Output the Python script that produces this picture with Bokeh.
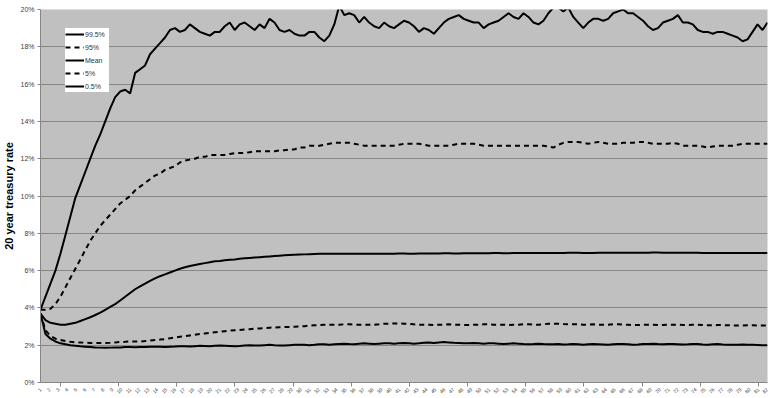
import math
from bokeh.plotting import figure
from bokeh.models import (Range1d, FixedTicker, PrintfTickFormatter, CustomJSTickFormatter,
                          Legend, LegendItem, ColumnDataSource)
from bokeh.embed import file_html
from bokeh.resources import INLINE

# ---- data (percent), one value per period ----
p995 = [3.9, 4.6, 5.3, 6.0, 6.9, 7.9, 8.9, 9.9, 10.6, 11.3,
        12.0, 12.7, 13.3, 14.0, 14.7, 15.3, 15.6, 15.7, 15.5, 16.6,
        16.8, 17.0, 17.6, 17.9, 18.2, 18.5, 18.9, 19.0, 18.8, 18.9,
        19.2, 19.0, 18.8, 18.7, 18.6, 18.8, 18.8, 19.1, 19.3, 18.9,
        19.2, 19.3, 19.1, 18.9, 19.2, 19.0, 19.5, 19.3, 18.9, 18.8,
        18.9, 18.7, 18.6, 18.6, 18.8, 18.8, 18.5, 18.3, 18.6, 19.2,
        20.2, 19.7, 19.8, 19.7, 19.3, 19.6, 19.3, 19.1, 19.0, 19.3,
        19.1, 19.0, 19.2, 19.4, 19.3, 19.1, 18.8, 19.0, 18.9, 18.7,
        19.0, 19.3, 19.5, 19.6, 19.7, 19.5, 19.4, 19.3, 19.3, 19.0,
        19.2, 19.3, 19.4, 19.6, 19.8, 19.6, 19.5, 19.8, 19.6, 19.3,
        19.2, 19.4, 19.8, 20.1, 20.1, 19.9, 20.1, 19.6, 19.3, 19.0,
        19.3, 19.5, 19.5, 19.4, 19.5, 19.8, 19.9, 20.0, 19.8, 19.8,
        19.6, 19.4, 19.1, 18.9, 19.0, 19.3, 19.4, 19.5, 19.7, 19.3,
        19.3, 19.2, 18.9, 18.8, 18.8, 18.7, 18.8, 18.8, 18.7, 18.6,
        18.5, 18.3, 18.4, 18.8, 19.2, 18.9, 19.3]

p95 = [3.9, 3.9, 3.95, 4.2, 4.6, 5.1, 5.6, 6.1, 6.6, 7.1,
       7.6, 8.0, 8.4, 8.7, 9.0, 9.3, 9.6, 9.8, 10.0, 10.3,
       10.5, 10.7, 10.9, 11.1, 11.2, 11.4, 11.5, 11.6, 11.8, 11.9,
       11.95, 12.0, 12.1, 12.1, 12.2, 12.2, 12.2, 12.2, 12.25, 12.3,
       12.3, 12.3, 12.35, 12.4, 12.4, 12.4, 12.4, 12.4, 12.45, 12.45,
       12.5, 12.5, 12.6, 12.6, 12.7, 12.7, 12.7, 12.75, 12.8, 12.85,
       12.85, 12.85, 12.85, 12.8, 12.75, 12.7, 12.7, 12.7, 12.7, 12.7,
       12.7, 12.7, 12.75, 12.8, 12.8, 12.8, 12.8, 12.75, 12.7, 12.7,
       12.7, 12.7, 12.7, 12.75, 12.8, 12.8, 12.8, 12.8, 12.75, 12.7,
       12.7, 12.7, 12.7, 12.7, 12.7, 12.7, 12.7, 12.7, 12.7, 12.7,
       12.7, 12.7, 12.65, 12.6, 12.75, 12.85, 12.9, 12.9, 12.9, 12.85,
       12.8, 12.85, 12.9, 12.85, 12.8, 12.8, 12.8, 12.85, 12.85, 12.85,
       12.9, 12.9, 12.85, 12.8, 12.8, 12.8, 12.8, 12.85, 12.8, 12.7,
       12.7, 12.7, 12.7, 12.65, 12.6, 12.65, 12.7, 12.7, 12.7, 12.7,
       12.75, 12.8, 12.8, 12.8, 12.8, 12.8, 12.8]

mean = [3.7, 3.35, 3.2, 3.15, 3.1, 3.1, 3.15, 3.2, 3.3, 3.4,
        3.5, 3.62, 3.75, 3.9, 4.05, 4.2, 4.4, 4.6, 4.8, 5.0,
        5.15, 5.3, 5.45, 5.58, 5.7, 5.8, 5.9, 6.0, 6.1, 6.18,
        6.25, 6.3, 6.35, 6.4, 6.45, 6.5, 6.52, 6.55, 6.58, 6.6,
        6.63, 6.66, 6.68, 6.7, 6.72, 6.74, 6.76, 6.78, 6.8, 6.82,
        6.84, 6.85, 6.86, 6.87, 6.88, 6.89, 6.9, 6.9, 6.9, 6.9,
        6.9, 6.91, 6.91, 6.9, 6.9, 6.9, 6.91, 6.91, 6.9, 6.9,
        6.9, 6.91, 6.92, 6.92, 6.91, 6.91, 6.92, 6.92, 6.92, 6.92,
        6.92, 6.93, 6.93, 6.92, 6.92, 6.93, 6.93, 6.93, 6.93, 6.93,
        6.93, 6.94, 6.94, 6.93, 6.93, 6.94, 6.94, 6.94, 6.94, 6.94,
        6.94, 6.95, 6.95, 6.95, 6.95, 6.95, 6.96, 6.96, 6.96, 6.95,
        6.95, 6.95, 6.96, 6.96, 6.96, 6.96, 6.96, 6.96, 6.96, 6.96,
        6.96, 6.96, 6.96, 6.97, 6.97, 6.96, 6.96, 6.96, 6.96, 6.96,
        6.96, 6.96, 6.96, 6.95, 6.95, 6.95, 6.95, 6.95, 6.95, 6.95,
        6.95, 6.95, 6.95, 6.95, 6.95, 6.95, 6.95]

p5 = [3.7, 2.8, 2.5, 2.35, 2.28, 2.22, 2.18, 2.15, 2.15, 2.13,
      2.12, 2.12, 2.12, 2.12, 2.13, 2.15, 2.17, 2.18, 2.2, 2.2,
      2.2, 2.22, 2.25, 2.28, 2.3, 2.33, 2.37, 2.42, 2.45, 2.48,
      2.52, 2.56, 2.6, 2.63, 2.66, 2.69, 2.72, 2.75, 2.78, 2.8,
      2.82, 2.84, 2.86, 2.88, 2.9, 2.92, 2.94, 2.95, 2.96, 2.97,
      2.98, 2.99, 3.0, 3.02, 3.05, 3.07, 3.08, 3.1, 3.1, 3.1,
      3.1, 3.12, 3.12, 3.1, 3.1, 3.1, 3.1, 3.1, 3.12, 3.15,
      3.15, 3.17, 3.17, 3.15, 3.15, 3.12, 3.1, 3.1, 3.1, 3.08,
      3.1, 3.1, 3.12, 3.1, 3.1, 3.08, 3.08, 3.1, 3.1, 3.12,
      3.12, 3.1, 3.1, 3.1, 3.08, 3.1, 3.1, 3.12, 3.12, 3.1,
      3.1, 3.12, 3.15, 3.15, 3.15, 3.13, 3.12, 3.12, 3.12, 3.1,
      3.1, 3.12, 3.1, 3.1, 3.1, 3.12, 3.12, 3.1, 3.1, 3.08,
      3.08, 3.1, 3.1, 3.1, 3.08, 3.08, 3.1, 3.1, 3.1, 3.08,
      3.08, 3.1, 3.1, 3.08, 3.07, 3.07, 3.08, 3.08, 3.07, 3.06,
      3.06, 3.06, 3.07, 3.07, 3.06, 3.05, 3.05]

p05 = [3.7, 2.6, 2.35, 2.2, 2.1, 2.05, 2.0, 1.97, 1.94, 1.92,
       1.9, 1.88, 1.87, 1.86, 1.87, 1.88, 1.88, 1.9, 1.9, 1.89,
       1.9, 1.91, 1.92, 1.92, 1.92, 1.91, 1.92, 1.93, 1.95, 1.94,
       1.93, 1.95, 1.97, 1.96, 1.95, 1.97, 1.98, 1.97, 1.96, 1.95,
       1.96, 1.98, 2.0, 1.99, 1.98, 2.0, 2.02, 2.0, 1.99, 1.98,
       2.0, 2.02, 2.03, 2.02, 2.0, 2.02, 2.05, 2.05, 2.03, 2.05,
       2.07, 2.08, 2.06, 2.05, 2.08, 2.1, 2.08, 2.06, 2.08, 2.1,
       2.1, 2.08, 2.1, 2.12, 2.1, 2.08, 2.1, 2.13, 2.15, 2.12,
       2.15, 2.17, 2.15, 2.13, 2.12, 2.1, 2.1, 2.12, 2.1, 2.08,
       2.1, 2.1, 2.08, 2.06, 2.08, 2.1, 2.08, 2.06, 2.05, 2.06,
       2.08, 2.06, 2.05, 2.05, 2.06, 2.04, 2.05, 2.07, 2.05, 2.03,
       2.05, 2.06, 2.05, 2.04, 2.03, 2.05, 2.07, 2.06, 2.05, 2.03,
       2.04, 2.06, 2.07, 2.08, 2.06, 2.05, 2.07, 2.06, 2.05, 2.04,
       2.05, 2.07, 2.06, 2.04, 2.03, 2.05, 2.06, 2.04, 2.03, 2.02,
       2.02, 2.04, 2.03, 2.02, 2.01, 2.0, 2.0]

period = list(range(len(mean)))
x_labels = [str(k) for k in range(1, 83)]
y_ticks = [0, 2, 4, 6, 8, 10, 12, 14, 16, 18, 20]
series_names = ["99.5%", "95%", "Mean", "5%", "0.5%"]

src = ColumnDataSource(dict(x=period, p995=p995, p95=p95, mean=mean, p5=p5, p05=p05))

n = len(period) - 1
p = figure(width=768, height=398, output_backend="svg", toolbar_location=None,
           x_range=Range1d(0, n), y_range=Range1d(0, 20),
           min_border_left=37, min_border_right=1, min_border_top=9, min_border_bottom=12,
           background_fill_color="#C0C0C0", border_fill_color="white")
p.outline_line_color = None

# lines
styles = [("p995", "solid"), ("p95", "5 4"), ("mean", "solid"), ("p5", "5 4"), ("p05", "solid")]
renderers = []
for col, dash in styles:
    r = p.line("x", col, source=src, line_color="black", line_width=2, line_dash=dash)
    renderers.append(r)

# grid
p.xgrid.grid_line_color = None
p.ygrid.grid_line_color = "#868686"
p.ygrid.grid_line_width = 1

# y axis
p.yaxis.ticker = FixedTicker(ticks=y_ticks)
p.yaxis.formatter = PrintfTickFormatter(format="%d%%")
p.yaxis.major_label_text_font = "Liberation Sans"
p.yaxis.major_label_text_font_size = "7px"
p.yaxis.major_label_text_color = "#404040"
p.yaxis.major_tick_out = 3
p.yaxis.major_tick_in = 0
p.yaxis.minor_tick_out = 0
p.yaxis.minor_tick_in = 0
p.yaxis.axis_line_color = "#868686"
p.yaxis.major_tick_line_color = "#868686"
p.yaxis.major_label_standoff = 3
p.yaxis.axis_label = "20 year treasury rate"
p.yaxis.axis_label_text_font = "Liberation Sans"
p.yaxis.axis_label_text_font_style = "bold"
p.yaxis.axis_label_text_font_size = "11px"
p.yaxis.axis_label_text_color = "black"
p.yaxis.axis_label_standoff = 2

# x axis: labels every ~1.8 periods, tick marks every ~11.7 periods
lab_step = n / (len(x_labels) - 1)
label_pos = [k * lab_step for k in range(len(x_labels))]
mark_pos = [4 + 11.68 * k for k in range(13)]
p.xaxis.ticker = FixedTicker(ticks=label_pos, minor_ticks=mark_pos)
p.xaxis.formatter = CustomJSTickFormatter(args=dict(labels=x_labels, step=lab_step),
                                          code="return labels[Math.round(tick / step)] || '';")
p.xaxis.major_label_orientation = math.pi / 4
p.xaxis.major_label_text_font = "Liberation Sans"
p.xaxis.major_label_text_font_size = "5px"
p.xaxis.major_label_text_color = "#404040"
p.xaxis.major_label_standoff = 2
p.xaxis.major_tick_out = 0
p.xaxis.major_tick_in = 0
p.xaxis.minor_tick_out = 4
p.xaxis.minor_tick_in = 0
p.xaxis.minor_tick_line_color = "#868686"
p.xaxis.axis_line_color = "#868686"

# legend
items = [LegendItem(label=nm, renderers=[r]) for nm, r in zip(series_names, renderers)]
legend = Legend(items=items, location=(25, 290))
legend.background_fill_color = "white"
legend.background_fill_alpha = 1.0
legend.border_line_color = None
legend.label_text_font = "Liberation Sans"
legend.label_text_font_size = "7px"
legend.label_text_color = "#333333"
legend.glyph_width = 19
legend.glyph_height = 10
legend.label_height = 12
legend.label_width = 24
legend.label_standoff = 1
legend.spacing = 1
legend.padding = 4
legend.margin = 0
p.add_layout(legend)

open("out.html", "w").write(file_html(p, INLINE))
